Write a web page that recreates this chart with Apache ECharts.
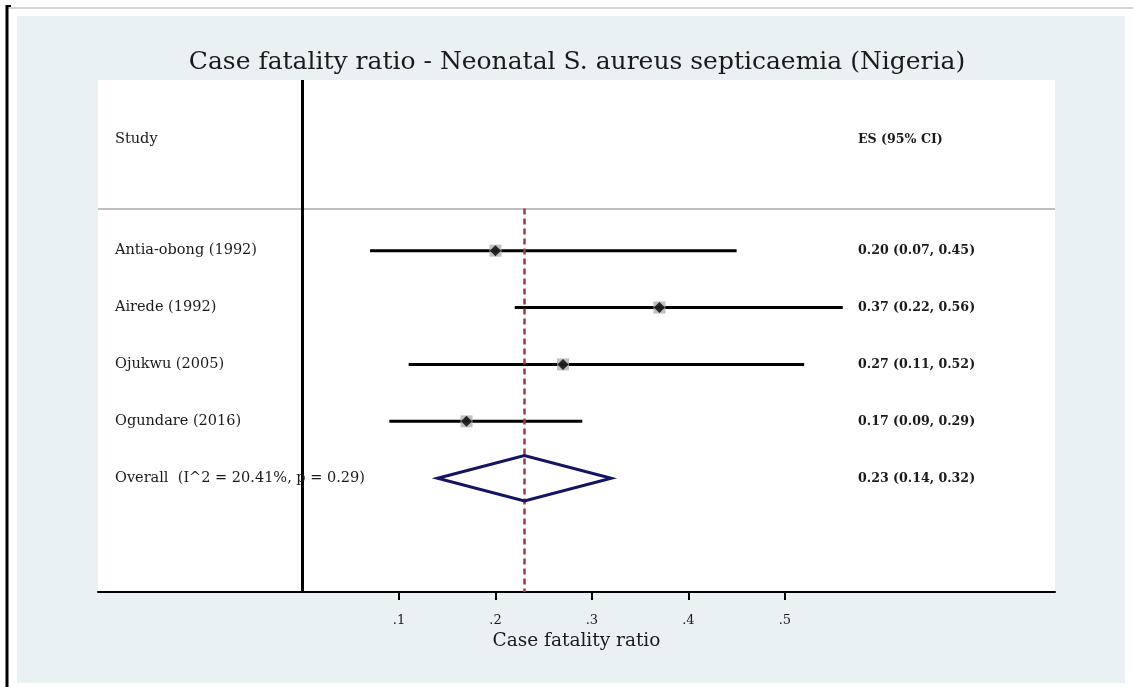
<!DOCTYPE html>
<html>
<head>
<meta charset="utf-8">
<title>Case fatality ratio - Neonatal S. aureus septicaemia (Nigeria)</title>
<script src="https://cdn.jsdelivr.net/npm/echarts@6/dist/echarts.min.js"></script>
<style>
  html, body { margin: 0; padding: 0; background: #ffffff; }
  #chart { width: 1133px; height: 687px; }
</style>
</head>
<body>
<div id="chart"></div>
<script>
// Study-level estimates (case fatality ratio with 95% CI)
const studies = ['Antia-obong (1992)', 'Airede (1992)', 'Ojukwu (2005)', 'Ogundare (2016)'];
const estimates = [0.20, 0.37, 0.27, 0.17];
const lowerCI = [0.07, 0.22, 0.11, 0.09];
const upperCI = [0.45, 0.56, 0.52, 0.29];

// Pooled estimate
const overallLabel = 'Overall  (I^2 = 20.41%, p = 0.29)';
const overallEstimate = 0.23;
const overallLower = 0.14;
const overallUpper = 0.32;

// X axis ticks
const tickValues = [0.1, 0.2, 0.3, 0.4, 0.5];
const tickLabels = ['.1', '.2', '.3', '.4', '.5'];

const titleText = 'Case fatality ratio - Neonatal S. aureus septicaemia (Nigeria)';
const axisTitle = 'Case fatality ratio';
const headerStudy = 'Study';
const headerES = 'ES (95% CI)';

const SERIF = '"DejaVu Serif", "Liberation Serif", serif';
const fmt = v => v.toFixed(2);

// Row positions: studies on rows 1..n, pooled row after them
const rows = studies.map((_, i) => i + 1);
const overallRow = studies.length + 1;
const headerRow = -0.95;
const dividerRow = 0.26;

const ciData = studies.map((_, i) => [lowerCI[i], upperCI[i], rows[i]]);
const pointData = studies.map((_, i) => [estimates[i], rows[i]]);
const labelRows = studies.map((s, i) => ({
  row: rows[i],
  name: s,
  es: fmt(estimates[i]) + ' (' + fmt(lowerCI[i]) + ', ' + fmt(upperCI[i]) + ')'
}));
labelRows.push({
  row: overallRow,
  name: overallLabel,
  es: fmt(overallEstimate) + ' (' + fmt(overallLower) + ', ' + fmt(overallUpper) + ')'
});

const chart = echarts.init(document.getElementById('chart'), null, { renderer: 'canvas' });

const option = {
  backgroundColor: '#ffffff',
  animation: false,
  graphic: [
    // panel background
    { type: 'rect', z: -10, shape: { x: 17, y: 16, width: 1108, height: 667 }, style: { fill: '#e9f1f3' } },
    // outer frame strokes
    { type: 'line', z: 5, shape: { x1: 8, y1: 8, x2: 1133, y2: 8 }, style: { stroke: '#a8a8a8', lineWidth: 1 } },
    { type: 'line', z: 5, shape: { x1: 7, y1: 5, x2: 7, y2: 687 }, style: { stroke: '#000000', lineWidth: 3 } },
    { type: 'line', z: 5, shape: { x1: 6, y1: 6, x2: 11, y2: 6 }, style: { stroke: '#000000', lineWidth: 2 } },
    // title
    { type: 'text', z: 5, x: 577, y: 62,
      style: { text: titleText, font: '25px ' + SERIF, fill: '#1a1a1a', textAlign: 'center', textVerticalAlign: 'middle' } }
  ],
  grid: {
    left: 98, right: 78, top: 80, bottom: 95,
    show: true, backgroundColor: '#ffffff', borderWidth: 0
  },
  xAxis: {
    type: 'value',
    min: -0.212,
    max: 0.78,
    name: axisTitle,
    nameLocation: 'middle',
    nameGap: 40,
    nameTextStyle: { fontFamily: SERIF, fontSize: 18.5, color: '#1a1a1a' },
    splitLine: { show: false },
    axisLine: { show: true, onZero: false, lineStyle: { color: '#000000', width: 2 } },
    axisTick: { show: true, length: 8, lineStyle: { color: '#000000', width: 2 }, customValues: tickValues },
    axisLabel: {
      show: true, margin: 22, fontFamily: SERIF, fontSize: 13, color: '#1a1a1a',
      customValues: tickValues,
      formatter: v => tickLabels[tickValues.findIndex(t => Math.abs(t - v) < 1e-9)] || ''
    }
  },
  yAxis: {
    type: 'value',
    inverse: true,
    min: -2,
    max: 7,
    show: false
  },
  series: [
    // null line, header divider and pooled-estimate reference line
    {
      type: 'line',
      data: [],
      silent: true,
      markLine: {
        symbol: 'none',
        silent: true,
        label: { show: false },
        data: [
          [{ coord: [-0.212, dividerRow], lineStyle: { color: '#c0c0c0', width: 2, type: 'solid' } },
           { coord: [0.78, dividerRow] }],
          [{ coord: [0, -2], lineStyle: { color: '#000000', width: 3, type: 'solid' } },
           { coord: [0, 7] }],
          [{ coord: [overallEstimate, dividerRow], lineStyle: { color: '#9e3a46', width: 2.5, type: [6, 4] } },
           { coord: [overallEstimate, 7] }]
        ]
      },
      z: 1
    },
    // confidence intervals
    {
      type: 'custom',
      z: 3,
      data: ciData,
      renderItem: (params, api) => {
        const a = api.coord([api.value(0), api.value(2)]);
        const b = api.coord([api.value(1), api.value(2)]);
        return {
          type: 'line',
          shape: { x1: a[0], y1: a[1], x2: b[0], y2: b[1] },
          style: { stroke: '#000000', lineWidth: 3 }
        };
      }
    },
    // weight boxes
    {
      type: 'scatter',
      z: 4,
      data: pointData,
      symbol: 'rect',
      symbolSize: 12,
      itemStyle: { color: '#b0b0b0' },
      silent: true
    },
    // point estimates
    {
      type: 'scatter',
      z: 5,
      data: pointData,
      symbol: 'diamond',
      symbolSize: 11,
      itemStyle: { color: '#000000' },
      silent: true
    },
    // pooled estimate diamond
    {
      type: 'custom',
      z: 5,
      data: [[overallLower, overallEstimate, overallUpper, overallRow]],
      renderItem: (params, api) => {
        const row = api.value(3);
        const l = api.coord([api.value(0), row]);
        const c = api.coord([api.value(1), row]);
        const r = api.coord([api.value(2), row]);
        const h = api.size([0, 0.4])[1];
        return {
          type: 'polygon',
          shape: { points: [[l[0], l[1]], [c[0], c[1] - h], [r[0], r[1]], [c[0], c[1] + h]] },
          style: { fill: 'rgba(255,255,255,0)', stroke: '#141466', lineWidth: 3, lineJoin: 'miter' }
        };
      }
    },
    // text columns: study names and ES (95% CI)
    {
      type: 'custom',
      z: 6,
      data: labelRows.map(d => [d.row]),
      renderItem: (params, api) => {
        const d = labelRows[params.dataIndex];
        const y = api.coord([0, api.value(0)])[1];
        const x0 = params.coordSys.x;
        return {
          type: 'group',
          children: [
            { type: 'text', x: x0 + 17, y: y,
              style: { text: d.name, font: '14.5px ' + SERIF, fill: '#1a1a1a', textVerticalAlign: 'middle' } },
            { type: 'text', x: x0 + 760, y: y,
              style: { text: d.es, font: 'bold 12.6px ' + SERIF, fill: '#1a1a1a', textVerticalAlign: 'middle' } }
          ]
        };
      }
    },
    // column headers
    {
      type: 'custom',
      z: 6,
      data: [[headerRow]],
      renderItem: (params, api) => {
        const y = api.coord([0, api.value(0)])[1];
        const x0 = params.coordSys.x;
        return {
          type: 'group',
          children: [
            { type: 'text', x: x0 + 17, y: y,
              style: { text: headerStudy, font: '14.5px ' + SERIF, fill: '#1a1a1a', textVerticalAlign: 'middle' } },
            { type: 'text', x: x0 + 760, y: y,
              style: { text: headerES, font: 'bold 12.6px ' + SERIF, fill: '#1a1a1a', textVerticalAlign: 'middle' } }
          ]
        };
      }
    }
  ]
};

chart.setOption(option);
</script>
</body>
</html>
